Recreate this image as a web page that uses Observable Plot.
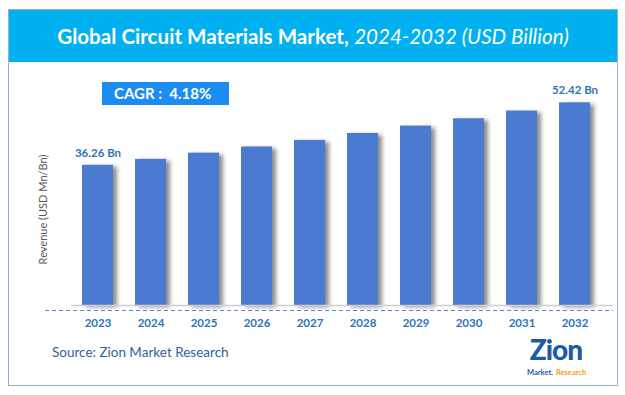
<!DOCTYPE html>
<html>
<head>
<meta charset="utf-8">
<script src="https://cdn.jsdelivr.net/npm/d3@7"></script>
<script src="https://cdn.jsdelivr.net/npm/@observablehq/plot@0.6"></script>
<style>
  html, body { margin: 0; padding: 0; background: #fff; width: 625px; height: 395px; overflow: hidden; }
  #frame { position: absolute; left: 8px; top: 9px; width: 608px; height: 375px; border: 1px solid #8FAFD6; box-sizing: content-box; }
  #title { position: absolute; left: 0; top: 0; width: 608px; height: 52px; background: #00B0F0; color: #fff;
           font-family: Lato, sans-serif; font-size: 20.6px; line-height: 52px; text-align: center; white-space: nowrap; }
  #title b { font-weight: 700; }
  #title i { font-weight: 400; font-style: italic; }
  #cagr { position: absolute; left: 93px; top: 72px; width: 127px; height: 23px; background: #1C8CF0; color: #fff;
          font-family: Lato, sans-serif; font-weight: 700; font-size: 15px; line-height: 23px; padding-left: 12px; box-sizing: border-box; white-space: pre; }
  #chart { position: absolute; left: 0; top: 53px; }
  #source { position: absolute; left: 43px; top: 334px; font-family: Lato, sans-serif; font-size: 13.5px; color: #2F5F99; }
  #logo { position: absolute; left: 510px; top: 325px; width: 74px; font-family: Lato, sans-serif; }
  #logo .z { position: absolute; left: 0; top: 0; width: 74px; text-align: center; font-size: 28px; font-weight: 900; color: #1F5AA6; line-height: 28px; letter-spacing: -1px; }
  #logo .m1, #logo .m2 { position: absolute; top: 33px; font-size: 7.5px; font-weight: 700; line-height: 9px; white-space: nowrap; }
  #logo .m1 { left: 8px; color: #1F5AA6; }
  #logo .m2 { left: 37px; color: #F39C12; }
  .bars rect { filter: drop-shadow(4px 2px 2px rgba(0,0,0,0.45)); }
</style>
</head>
<body>
<div id="frame">
  <div id="title"><b>Global Circuit Materials Market,</b> <i>2024-2032 (USD Billion)</i></div>
  <div id="cagr">CAGR :  4.18%</div>
  <div id="chart"></div>
  <div id="source">Source: Zion Market Research</div>
  <div id="logo"><div class="z">Zion</div><span class="m1">Market.</span><span class="m2">Research</span></div>
</div>
<script>
const years = ["2023","2024","2025","2026","2027","2028","2029","2030","2031","2032"];
const revenue = [36.26, 37.8, 39.4, 41.0, 42.7, 44.5, 46.4, 48.3, 50.3, 52.42];
const valueLabels = ["36.26 Bn", "", "", "", "", "", "", "", "", "52.42 Bn"];
const yLabel = "Revenue (USD Mn/Bn)";

const data = years.map((y, i) => ({year: y, value: revenue[i], label: valueLabels[i]}));

const chart = Plot.plot({
  width: 608,
  height: 280,
  marginLeft: 50,
  marginRight: 4,
  marginTop: 10,
  marginBottom: 38,
  style: { fontFamily: "Lato, sans-serif", background: "transparent", overflow: "visible" },
  x: { domain: years, padding: 0.42, label: null },
  y: { domain: [0, 60], axis: null },
  marks: [
    Plot.barY(data, { x: "year", y: "value", fill: "#4A7BD0", className: "bars" }),
    Plot.ruleY([0], { stroke: "#D0D0D0", strokeWidth: 1.5, insetLeft: 12 }),
    Plot.ruleY([0], { stroke: "#5B86C8", strokeDasharray: "4,3", dy: 5, insetLeft: -14 }),
    Plot.text(data.filter(d => d.label), { x: "year", y: "value", text: "label", dy: -12,
      fill: "#2E75B6", fontWeight: "bold", fontSize: 11.5 }),
    Plot.axisX({ tickSize: 0, tickPadding: 13, fontSize: 11.5, fontWeight: "bold", color: "#2E75B6", label: null }),
    Plot.text([yLabel], { frameAnchor: "left", textAnchor: "middle", rotate: -90, dx: -16, dy: 20, fill: "#595959", fontSize: 11 })
  ]
});
document.getElementById("chart").appendChild(chart);
</script>
</body>
</html>
